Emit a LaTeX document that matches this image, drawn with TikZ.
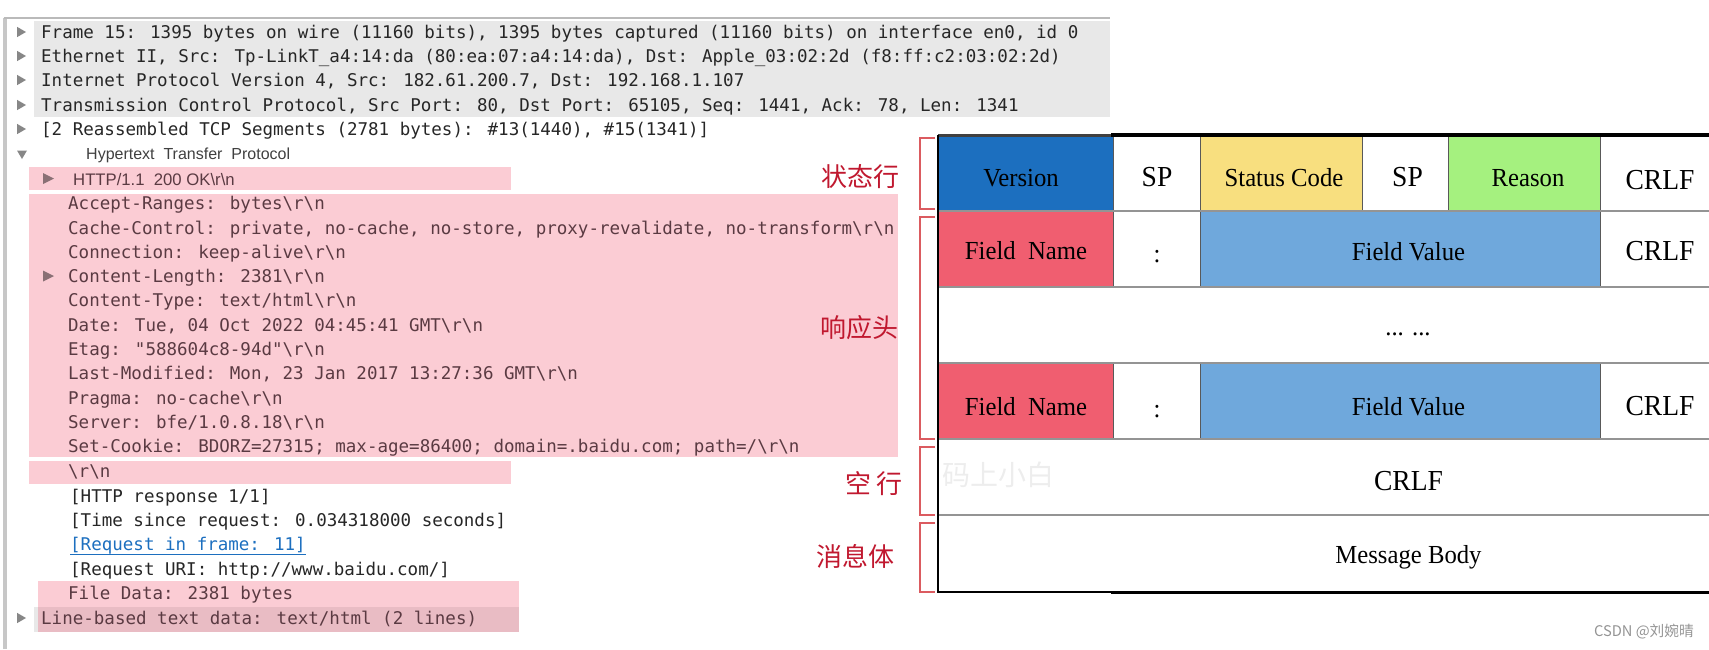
\documentclass[tikz,border=0pt]{standalone}
\usepackage{fontspec}
\usetikzlibrary{positioning}
\newfontfamily\pktfont{DejaVu Sans Mono}
\newfontfamily\sansfont{Liberation Sans}
\newfontfamily\cellfont[FakeStretch=0.95]{Liberation Serif}
\newfontfamily\cjkfont{Noto Sans CJK SC}
\newcommand{\crmark}{\textbackslash r\textbackslash n}
\definecolor{rowgray}{HTML}{E8E8E8}
\definecolor{bandpink}{HTML}{FBCCD4}
\definecolor{bandmix}{HTML}{E9BCC4}
\definecolor{pinkink}{HTML}{5A3A42}
\definecolor{verblue}{HTML}{1C6FBF}
\definecolor{codeyellow}{HTML}{F8DF7F}
\definecolor{reasongreen}{HTML}{A5F17F}
\definecolor{namered}{HTML}{F05E70}
\definecolor{valueblue}{HTML}{6FA8DC}
\definecolor{labelred}{HTML}{C0182F}
\definecolor{bracketred}{HTML}{DB5B60}
\tikzset{
    pkt/.style={anchor=west, inner sep=0pt, text height=13pt, text depth=0pt, text=black!85, font=\pktfont\fontsize{17.52}{20}\selectfont},
    pinkpkt/.style={pkt, text=pinkink},
    thin sans/.style={anchor=west, inner sep=0pt, text height=12pt, text depth=0pt, font=\sansfont\fontsize{16}{18}\selectfont},
    celltext/.style={inner sep=0pt, text height=18pt, text depth=0pt, text=black, font=\cellfont\fontsize{26}{28}\selectfont},
    cellbig/.style={celltext, font=\cellfont\fontsize{29}{31}\selectfont},
    cellbox/.style={draw=black!65, line width=1pt},
    rowline/.style={draw=black!42, line width=2pt},
    bracket/.style={draw=bracketred, line width=2pt},
    partlabel/.style={inner sep=0pt, text=labelred, font=\cjkfont\fontsize{26}{28}\selectfont},
}
\begin{document}
\begin{tikzpicture}[x=1pt, y=-1pt]
        \useasboundingbox (0,0) rectangle (1709,649);

        \draw[black!22, line width=3.5pt] (5,649) -- (5,18);
        \draw[black!27, line width=2.5pt] (3.5,18) -- (1110,18);
        \fill[rowgray] (34,21) rectangle (1110,117);
        \fill[bandpink] (29,167) rectangle (511,190);
        \fill[bandpink] (29,194) rectangle (898,457);
        \fill[bandpink] (29,461) rectangle (511,484);
        \fill[rowgray] (34,607) rectangle (38,632);
        \fill[bandpink] (38,581) rectangle (519,607);
        \fill[bandmix] (38,607) rectangle (519,632);

        \foreach \ypos in {32,56,80,105,129,618}
            \fill[black!47] (17,\ypos-5.2) -- (26,\ypos) -- (17,\ypos+5.2) -- cycle;
        \fill[black!47] (17,150.5) -- (27,150.5) -- (22,159) -- cycle;
        \foreach \ypos in {178.5,276}
            \fill[black!45!bandpink] (43,\ypos-5.5) -- (54,\ypos) -- (43,\ypos+5.5) -- cycle;

        \node[pkt] (frame) at (41,32) {Frame 15: 1395 bytes on wire (11160 bits), 1395 bytes captured (11160 bits) on interface en0, id 0};
        \node[pkt] (ether) at (41,56) {Ethernet II, Src: Tp-LinkT\_a4:14:da (80:ea:07:a4:14:da), Dst: Apple\_03:02:2d (f8:ff:c2:03:02:2d)};
        \node[pkt] (ipv4) at (41,80) {Internet Protocol Version 4, Src: 182.61.200.7, Dst: 192.168.1.107};
        \node[pkt] (tcp) at (41,105) {Transmission Control Protocol, Src Port: 80, Dst Port: 65105, Seq: 1441, Ack: 78, Len: 1341};
        \node[pkt] (segments) at (41,129) {[2 Reassembled TCP Segments (2781 bytes): \#13(1440), \#15(1341)]};
        \node[thin sans, text=black!75] (hypertext) at (86,153) {Hypertext\ \ Transfer\ \ Protocol};
        \node[thin sans, text=pinkink, font=\sansfont\fontsize{16.7}{18}\selectfont] (statusline) at (73,179) {HTTP/1.1\ \ 200 OK\crmark};
        \node[pinkpkt] (accept) at (68,203) {Accept-Ranges: bytes\crmark};
        \node[pinkpkt] (cache) at (68,227.5) {Cache-Control: private, no-cache, no-store, proxy-revalidate, no-transform\crmark};
        \node[pinkpkt] (connection) at (68,252) {Connection: keep-alive\crmark};
        \node[pinkpkt] (length) at (68,276) {Content-Length: 2381\crmark};
        \node[pinkpkt] (ctype) at (68,300) {Content-Type: text/html\crmark};
        \node[pinkpkt] (date) at (68,325) {Date: Tue, 04 Oct 2022 04:45:41 GMT\crmark};
        \node[pinkpkt] (etag) at (68,349) {Etag: "588604c8-94d"\crmark};
        \node[pinkpkt] (modified) at (68,373) {Last-Modified: Mon, 23 Jan 2017 13:27:36 GMT\crmark};
        \node[pinkpkt] (pragma) at (68,398) {Pragma: no-cache\crmark};
        \node[pinkpkt] (server) at (68,422) {Server: bfe/1.0.8.18\crmark};
        \node[pinkpkt] (cookie) at (68,446) {Set-Cookie: BDORZ=27315; max-age=86400; domain=.baidu.com; path=/\crmark};
        \node[pinkpkt] (blank) at (68,471) {\crmark};
        \node[pkt] (response) at (70,496) {[HTTP response 1/1]};
        \node[pkt] (elapsed) at (70,520) {[Time since request: 0.034318000 seconds]};
        \node[pkt, text=verblue] (reqframe) at (70,544) {[Request in frame: 11]};
        \node[pkt] (requri) at (70,569) {[Request URI: http://www.baidu.com/]};
        \node[pinkpkt] (filedata) at (68,593) {File Data: 2381 bytes};
        \node[pinkpkt] (linebased) at (41,618) {Line-based text data: text/html (2 lines)};
        \draw[verblue, line width=1pt] ([yshift=-3.5pt]reqframe.south west) -- ([yshift=-3.5pt]reqframe.south east);

        \draw[cellbox, fill=verblue] (938,136) rectangle (1113.5,211);
        \draw[cellbox, fill=codeyellow] (1200.5,136) rectangle (1362,211);
        \draw[cellbox, fill=reasongreen] (1448,136) rectangle (1600.5,211);
        \draw[cellbox, fill=namered] (938,211) rectangle (1113.5,287);
        \draw[cellbox, fill=valueblue] (1200.5,211) rectangle (1600.5,287);
        \draw[cellbox, fill=namered] (938,363) rectangle (1113.5,439);
        \draw[cellbox, fill=valueblue] (1200.5,363) rectangle (1600.5,439);
        \foreach \ypos in {211,287,363,439,515}
            \draw[rowline] (938,\ypos) -- (1709,\ypos);
        \draw[black!75, line width=3pt] (938,135.5) -- (1111,135.5);
        \draw[black, line width=3.5pt] (1111,135) -- (1709,135);
        \draw[black, line width=2pt] (938,592) -- (1111,592);
        \draw[black, line width=3.5pt] (1111,592.5) -- (1709,592.5);
        \draw[black, line width=2pt] (938,135) -- (938,593);

        \node[celltext] (version) at (1021,177) {Version};
        \node[cellbig] (spone) at (1157,177) {SP};
        \node[celltext] (statuscode) at (1284,177) {Status Code};
        \node[cellbig] (sptwo) at (1407.5,177) {SP};
        \node[celltext] (reason) at (1528,177) {Reason};
        \node[cellbig] (crlfone) at (1660,180) {CRLF};
        \node[celltext] (nameone) at (1026,250) {Field\ \ Name};
        \node[celltext] (colonone) at (1157,253) {:};
        \node[celltext] (valueone) at (1408.5,251) {Field Value};
        \node[cellbig] (crlftwo) at (1660,251) {CRLF};
        \node[celltext] (dots) at (1408,326.5) {... ...};
        \node[celltext] (nametwo) at (1026,406) {Field\ \ Name};
        \node[celltext] (colontwo) at (1157,408) {:};
        \node[celltext] (valuetwo) at (1408.5,406) {Field Value};
        \node[cellbig] (crlfthree) at (1660,406) {CRLF};
        \node[cellbig] (crlffour) at (1408.5,481) {CRLF};
        \node[celltext] (msgbody) at (1408.5,554) {Message Body};

        \draw[bracket] (935,137.5) -- (920,137.5) -- (920,209) -- (935,209);
        \draw[bracket] (935,217) -- (920,217) -- (920,439) -- (935,439);
        \draw[bracket] (935,447) -- (920,447) -- (920,515) -- (935,515);
        \draw[bracket] (935,523) -- (920,523) -- (920,592) -- (935,592);

        \node[partlabel] (statelabel) at (860,177) {状态行};
        \node[partlabel] (headlabel) at (859,328) {响应头};
        \node[partlabel] (blanklabel) at (874,484) {空\ 行};
        \node[partlabel] (bodylabel) at (855,556) {消息体};

        \node[inner sep=0pt, anchor=west, text=black!7, font=\cjkfont\fontsize{28}{30}\selectfont] (watermark) at (942,475) {码上小白};
        \node[inner sep=0pt, anchor=east, text=black!42, font=\cjkfont\fontsize{14.7}{16}\selectfont] (csdnmark) at (1694,632) {CSDN @刘婉晴};
    \end{tikzpicture}
\end{document}
